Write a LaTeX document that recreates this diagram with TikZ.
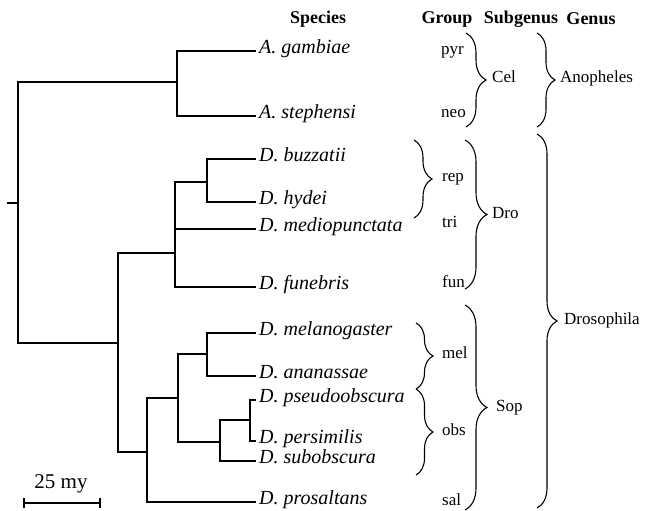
\documentclass[tikz,border=0pt]{standalone}
\usepackage{fontspec}
\setmainfont{Liberation Serif}
\usetikzlibrary{decorations.pathreplacing}
\begin{document}
\begin{tikzpicture}[x=1pt,y=-1pt,
  tree/.style={line width=1.5pt},
  sp/.style={anchor=west, inner sep=3pt, text height=0.7em, text depth=0.2em, font=\fontsize{20}{20}\selectfont\itshape},
  lab/.style={anchor=west, inner sep=0pt, text height=0.7em, text depth=0.2em, font=\fontsize{17}{17}\selectfont},
  hd/.style={inner sep=0pt, font=\fontsize{18}{18}\selectfont\bfseries},
  brc/.style={decorate, decoration={brace, amplitude=#1}, line width=1.1pt}]
\useasboundingbox (0,0) rectangle (645,511);

% headers
\node[hd] (hsp) at (318,19) {Species};
\node[hd] (hgr) at (447,19) {Group};
\node[hd] (hsg) at (521,19) {Subgenus};
\node[hd] (hge) at (591,19) {Genus};

% species
\node[sp] (gam) at (256,51) {A. gambiae};
\node[sp] (ste) at (256,116) {A. stephensi};
\node[sp] (buz) at (256,159) {D. buzzatii};
\node[sp] (hyd) at (256,202) {D. hydei};
\node[sp] (med) at (256,229) {D. mediopunctata};
\node[sp] (fun) at (256,287) {D. funebris};
\node[sp] (mela) at (256,333) {D. melanogaster};
\node[sp] (ana) at (256,376) {D. ananassae};
\node[sp] (pse) at (256,400) {D. pseudoobscura};
\node[sp] (per) at (256,441) {D. persimilis};
\node[sp] (sub) at (256,461) {D. subobscura};
\node[sp] (pro) at (256,502) {D. prosaltans};

% internal nodes
\coordinate (stub) at (7,203);
\coordinate (R) at (18,203);
\coordinate (A) at (177,82);
\coordinate (D) at (118,343);
\coordinate (Dro) at (175,253);
\coordinate (rep) at (207,182);
\coordinate (Sop) at (147,452);
\coordinate (MO) at (178,398);
\coordinate (mel) at (207,354);
\coordinate (obs) at (220,442);
\coordinate (PP) at (250,420);

\begin{scope}[tree]
\draw (stub) -- (R);
\draw (R) |- (A);
\draw (R) |- (D);
\draw (A) |- (gam.west);
\draw (A) |- (ste.west);
\draw (D) |- (Dro);
\draw (D) |- (Sop);
\draw (Dro) |- (rep);
\draw (Dro) |- (med.west);
\draw (Dro) |- (fun.west);
\draw (rep) |- (buz.west);
\draw (rep) |- (hyd.west);
\draw (Sop) |- (MO);
\draw (Sop) |- (pro.west);
\draw (MO) |- (mel);
\draw (MO) |- (obs);
\draw (mel) |- (mela.west);
\draw (mel) |- (ana.west);
\draw (obs) |- (PP);
\draw (obs) |- (sub.west);
\draw (PP) |- (pse.west);
\draw (PP) |- (per.west);
\end{scope}

% group labels
\node[lab] (pyr) at (441,52) {pyr};
\node[lab] (neo) at (441,115) {neo};
\node[lab] (grep) at (442,179) {rep};
\node[lab] (tri) at (442,225) {tri};
\node[lab] (gfun) at (442,285) {fun};
\node[lab] (gmel) at (442,356) {mel};
\node[lab] (gobs) at (442,433) {obs};
\node[lab] (sal) at (442,503) {sal};
% subgenus
\node[lab] (cel) at (492,80) {Cel};
\node[lab] (dro) at (492,216) {Dro};
\node[lab] (sop) at (496,409) {Sop};
% genus
\node[lab] (ano) at (560,80) {Anopheles};
\node[lab] (dros) at (564,322) {Drosophila};

% braces
\coordinate (b1t) at (466,33);  \coordinate (b1b) at (466,127);
\coordinate (b2t) at (537,33);  \coordinate (b2b) at (537,127);
\coordinate (b3t) at (414,140); \coordinate (b3b) at (414,218);
\coordinate (b4t) at (465,140); \coordinate (b4b) at (465,289);
\coordinate (b5t) at (537,134); \coordinate (b5b) at (537,508);
\coordinate (b6t) at (416,323); \coordinate (b6b) at (416,389);
\coordinate (b7t) at (416,389); \coordinate (b7b) at (416,475);
\coordinate (b8t) at (465,305); \coordinate (b8b) at (465,510);
\draw[brc=20] (b1t) -- (b1b);
\draw[brc=18] (b2t) -- (b2b);
\draw[brc=18] (b3t) -- (b3b);
\draw[brc=22] (b4t) -- (b4b);
\draw[brc=20] (b5t) -- (b5b);
\draw[brc=17] (b6t) -- (b6b);
\draw[brc=17] (b7t) -- (b7b);
\draw[brc=22] (b8t) -- (b8b);

% scale bar
\node[inner sep=0pt, font=\fontsize{21}{21}\selectfont] (scl) at (61,484) {25 my};
\coordinate (sbL) at (24,503);
\coordinate (sbR) at (100,503);
\draw[tree] (sbL) -- (sbR);
\draw[line width=1.3pt] ([yshift=-5pt]sbL) -- ([yshift=5pt]sbL);
\draw[line width=1.3pt] ([yshift=-5pt]sbR) -- ([yshift=5pt]sbR);
\end{tikzpicture}
\end{document}
